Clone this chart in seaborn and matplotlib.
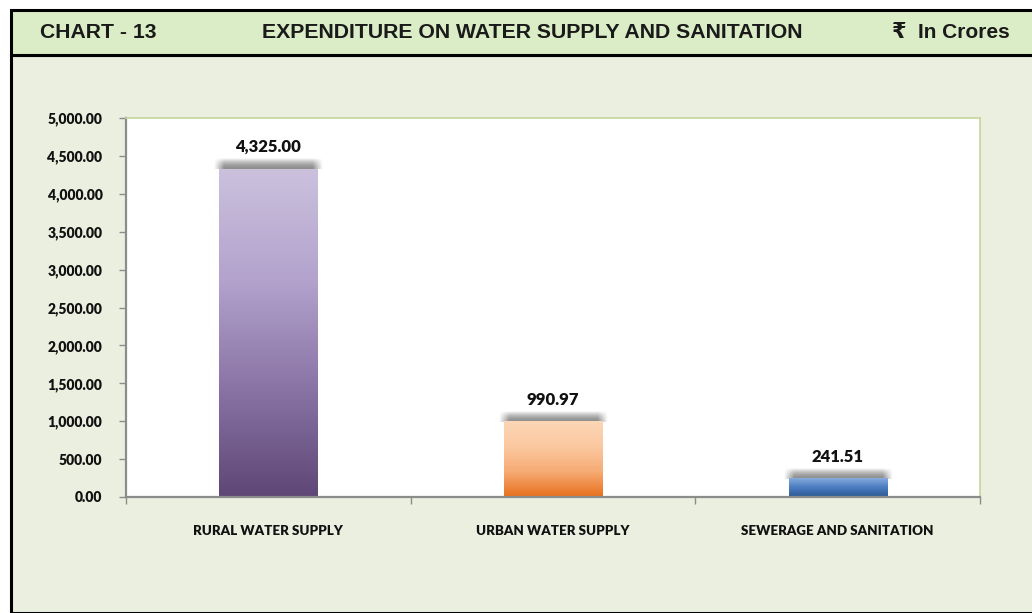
import numpy as np
import pandas as pd
import seaborn as sns
import matplotlib.pyplot as plt
from matplotlib.colors import LinearSegmentedColormap
from matplotlib.patches import Rectangle
from matplotlib.ticker import FuncFormatter

categories = ['RURAL WATER SUPPLY', 'URBAN WATER SUPPLY', 'SEWERAGE AND SANITATION']
values = [4325.00, 990.97, 241.51]
value_labels = ['4,325.00', '990.97', '241.51']
# gradient colours, bottom -> top
grad_colors = [
    ['#5e4776', '#8a74a6', '#b3a3cd', '#cbc1dd'],
    ['#e8701c', '#f6ab74', '#fbc8a0', '#fcd6b6'],
    ['#2b5892', '#4a7cc0', '#86abde'],
]

sns.set_theme(style='white')
plt.rcParams['font.family'] = ['Lato', 'DejaVu Sans']

fig = plt.figure(figsize=(10.32, 6.13), dpi=100)
fig.patch.set_facecolor('white')

# page background and header band
fig.patches.append(Rectangle((11 / 1032, 0), 1.0, (613 - 55) / 613, transform=fig.transFigure,
                             facecolor='#ebefdf', edgecolor='black', lw=2.2, zorder=-2))
fig.patches.append(Rectangle((11 / 1032, (613 - 55) / 613), 1.0, 45 / 613, transform=fig.transFigure,
                             facecolor='#dbedc6', edgecolor='black', lw=2.2, zorder=-2))

hdr_y = (613 - 32) / 613
hfont = ['Liberation Sans', 'DejaVu Sans']
fig.text(40 / 1032, hdr_y, 'CHART - 13', fontsize=15.2, fontweight='bold', family=hfont,
         ha='left', va='center', color='#1a1a1a')
fig.text(532 / 1032, hdr_y, 'EXPENDITURE ON WATER SUPPLY AND SANITATION', fontsize=15.3,
         fontweight='bold', family=hfont, ha='center', va='center', color='#1a1a1a')
fig.text(1010 / 1032, hdr_y, '\u20b9  In Crores', fontsize=15, fontweight='bold', family=hfont,
         ha='right', va='center', color='#1a1a1a')

ax = fig.add_axes([126 / 1032, (613 - 497) / 613, (980 - 126) / 1032, (497 - 118) / 613])
ax.set_facecolor('white')

df = pd.DataFrame({'category': categories, 'value': values})
sns.barplot(data=df, x='category', y='value', width=0.345, color='white', ax=ax, zorder=1)

ax.set_ylim(0, 5000)
ax.set_xlim(-0.5, 2.5)
ax.set_yticks(np.arange(0, 5001, 500))
ax.yaxis.set_major_formatter(FuncFormatter(lambda v, p: f'{v:,.2f}'))

# gradient fills + soft shadow on top of each bar
yr = 5000 / 379.0          # data units per pixel (y)
xr = 3 / 854.0             # data units per pixel (x)
for patch, cols, val, lab in zip(ax.patches, grad_colors, values, value_labels):
    x0 = patch.get_x()
    w = patch.get_width()
    h = patch.get_height()
    cmap = LinearSegmentedColormap.from_list('g', cols)
    grad = np.linspace(0, 1, 256).reshape(-1, 1)
    ax.imshow(grad, cmap=cmap, origin='lower', aspect='auto',
              extent=(x0, x0 + w, 0, h), zorder=2)
    # shadow above the bar
    pad_px = 5
    wpx = int(w / xr) + 2 * pad_px
    hpx = 11
    ny, nx = hpx * 4, wpx * 2
    yy = np.linspace(0, 1, ny).reshape(-1, 1)
    xp = np.linspace(0, wpx, nx).reshape(1, -1)
    edge = np.minimum(xp, wpx - xp)
    fx = np.clip(edge / (2 * pad_px), 0, 1)
    fy = np.clip(1 - yy ** 1.8, 0, 1)
    rgba = np.zeros((ny, nx, 4))
    rgba[..., :3] = 0.45
    rgba[..., 3] = fy * fx * 0.8
    ax.imshow(rgba, origin='lower', aspect='auto', interpolation='bilinear',
              extent=(x0 - pad_px * xr, x0 + w + pad_px * xr, h, h + hpx * yr), zorder=1.5)
    ax.text(x0 + w / 2, h + 14 * yr, lab, ha='center', va='bottom',
            fontsize=12, fontweight='heavy', color='#111111')
ax.set_xlim(-0.5, 2.5)
ax.set_ylim(0, 5000)

ax.set_xlabel('')
ax.set_ylabel('')
for lbl in ax.get_yticklabels():
    lbl.set_fontweight('heavy')
for lbl in ax.get_xticklabels():
    lbl.set_fontweight('heavy')
ax.tick_params(axis='y', labelsize=10, length=5, width=1, color='#8c8c8c',
               direction='out', left=True, pad=12, labelcolor='#111111')
ax.tick_params(axis='x', which='major', labelsize=9.6, length=0, pad=20, labelcolor='#111111')
ax.set_xticks([-0.5, 0.5, 1.5, 2.5], minor=True)
ax.tick_params(axis='x', which='minor', length=5, width=1, color='#8c8c8c', direction='out', bottom=True)

for side in ['left', 'bottom']:
    ax.spines[side].set_color('#8c8c8c')
    ax.spines[side].set_linewidth(1.6)
for side in ['top', 'right']:
    ax.spines[side].set_color('#c3d69b')
    ax.spines[side].set_linewidth(1.2)

fig.savefig('out.png', dpi=100)
